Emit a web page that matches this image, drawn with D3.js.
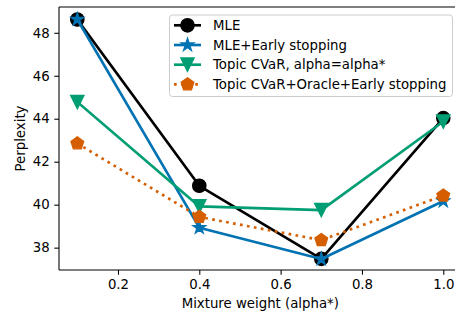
<!DOCTYPE html>
<html>
<head>
<meta charset="utf-8">
<script src="https://cdn.jsdelivr.net/npm/d3@7"></script>
<style>
  html, body { margin: 0; padding: 0; background: #fff; }
  svg { display: block; }
  text { font-family: "DejaVu Sans", sans-serif; }
</style>
</head>
<body>
<div id="chart"></div>
<script>
// ---- data ----
const alphas = [0.1, 0.4, 0.7, 1.0];
const mle = [48.62, 40.88, 37.48, 44.03];
const mleEarly = [48.62, 38.93, 37.47, 40.17];
const topicCvar = [44.78, 39.92, 39.75, 43.87];
const cvarOracle = [42.85, 39.43, 38.35, 40.42];
const seriesNames = ["MLE", "MLE+Early stopping", "Topic CVaR, alpha=alpha*", "Topic CVaR+Oracle+Early stopping"];
const xTicks = [0.2, 0.4, 0.6, 0.8, 1.0];
const yTicks = [38, 40, 42, 44, 46, 48];
const xLabel = "Mixture weight (alpha*)";
const yLabel = "Perplexity";

// ---- styles ----
const series = [
  { name: seriesNames[0], values: mle, color: "#000000", marker: "circle", dash: null },
  { name: seriesNames[1], values: mleEarly, color: "#0173B2", marker: "star", dash: null },
  { name: seriesNames[2], values: topicCvar, color: "#029E73", marker: "tri", dash: null },
  { name: seriesNames[3], values: cvarOracle, color: "#D55E00", marker: "pent", dash: "2.67,4.4" }
];

const W = 455, H = 313;
const pL = 59, pR = 461.6, pT = 7, pB = 270;
const fs = 13.3;
const lw = 2.67;
const mr = 6.67;

const svg = d3.select("#chart").append("svg").attr("width", W).attr("height", H);

const x = d3.scaleLinear().domain([0.055, 1.045]).range([pL, pR]);
const y = d3.scaleLinear().domain([36.96, 49.2]).range([pB, pT]);

// axes
const xAxis = d3.axisBottom(x).tickValues(xTicks).tickFormat(d3.format(".1f")).tickSize(4.7).tickPadding(4.7).tickSizeOuter(0);
const yAxis = d3.axisLeft(y).tickValues(yTicks).tickFormat(d3.format("d")).tickSize(4.7).tickPadding(4.7).tickSizeOuter(0);

const gx = svg.append("g").attr("transform", `translate(0,${pB})`).call(xAxis);
const gy = svg.append("g").attr("transform", `translate(${pL},0)`).call(yAxis);
[gx, gy].forEach(g => {
  g.select(".domain").remove();
  g.selectAll("line").attr("stroke", "#000").attr("stroke-width", 1.07);
  g.selectAll("text").attr("font-size", fs).attr("fill", "#000").attr("font-family", "DejaVu Sans, sans-serif");
});

// spines
const sp = svg.append("g").attr("stroke", "#000").attr("stroke-width", 1.07).attr("fill", "none");
sp.append("line").attr("x1", pL).attr("x2", pL).attr("y1", pT).attr("y2", pB);
sp.append("line").attr("x1", pL).attr("x2", pR).attr("y1", pB).attr("y2", pB);
sp.append("line").attr("x1", pL).attr("x2", pR).attr("y1", pT).attr("y2", pT);
sp.append("line").attr("x1", pR).attr("x2", pR).attr("y1", pT).attr("y2", pB);

// labels
svg.append("text").attr("x", (pL + pR) / 2).attr("y", 307.5).attr("text-anchor", "middle")
  .attr("font-size", fs).text(xLabel);
svg.append("text").attr("transform", `translate(24.5,${(pT + pB) / 2}) rotate(-90)`)
  .attr("text-anchor", "middle").attr("font-size", fs).text(yLabel);

// marker shapes
function markerPath(type, r) {
  const pts = [];
  if (type === "star") {
    const ri = r * 0.381966;
    for (let i = 0; i < 10; i++) {
      const a = -Math.PI / 2 + i * Math.PI / 5;
      const rr = i % 2 === 0 ? r : ri;
      pts.push([rr * Math.cos(a), rr * Math.sin(a)]);
    }
  } else if (type === "tri") {
    pts.push([0, r], [-r, -r], [r, -r]);
  } else if (type === "pent") {
    for (let i = 0; i < 5; i++) {
      const a = -Math.PI / 2 + i * 2 * Math.PI / 5;
      pts.push([r * Math.cos(a), r * Math.sin(a)]);
    }
  }
  return "M" + pts.map(p => p[0].toFixed(2) + "," + p[1].toFixed(2)).join("L") + "Z";
}
function drawMarker(g, type, cx, cy, color) {
  if (type === "circle") {
    g.append("circle").attr("cx", cx).attr("cy", cy).attr("r", mr)
      .attr("fill", color).attr("stroke", color).attr("stroke-width", 1.33);
  } else {
    g.append("path").attr("d", markerPath(type, mr)).attr("transform", `translate(${cx},${cy})`)
      .attr("fill", color).attr("stroke", color).attr("stroke-width", 1.33).attr("stroke-linejoin", "miter");
  }
}

// series
const line = d3.line().x(d => x(d[0])).y(d => y(d[1]));
series.forEach(s => {
  const g = svg.append("g");
  const pts = alphas.map((a, i) => [a, s.values[i]]);
  const p = g.append("path").attr("d", line(pts)).attr("fill", "none")
    .attr("stroke", s.color).attr("stroke-width", lw).attr("stroke-linejoin", "round");
  if (s.dash) p.attr("stroke-dasharray", s.dash).attr("stroke-linecap", "butt");
  else p.attr("stroke-linecap", "square");
  pts.forEach(d => drawMarker(g, s.marker, x(d[0]), y(d[1]), s.color));
});

// legend
const lg = svg.append("g");
lg.append("rect").attr("x", 169.5).attr("y", 15).attr("width", 283).attr("height", 81.5)
  .attr("rx", 3).attr("ry", 3).attr("fill", "#fff").attr("fill-opacity", 0.8)
  .attr("stroke", "#cccccc").attr("stroke-width", 1);
series.forEach((s, i) => {
  const cy = 25.3 + i * 19.7;
  const l = lg.append("line").attr("x1", 174).attr("x2", 201).attr("y1", cy).attr("y2", cy)
    .attr("stroke", s.color).attr("stroke-width", lw);
  if (s.dash) l.attr("stroke-dasharray", s.dash);
  drawMarker(lg, s.marker, 187.5, cy, s.color);
  lg.append("text").attr("x", 213).attr("y", cy).attr("dy", "0.36em")
    .attr("font-size", fs).attr("fill", "#000").text(s.name);
});
</script>
</body>
</html>
